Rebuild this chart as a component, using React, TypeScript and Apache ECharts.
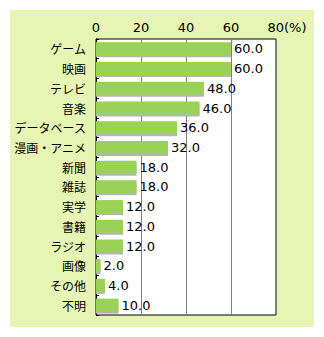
import React, { useEffect, useRef } from "react";
import * as echarts from "echarts";

const categories = ["ゲーム", "映画", "テレビ", "音楽", "データベース", "漫画・アニメ", "新聞", "雑誌", "実学", "書籍", "ラジオ", "画像", "その他", "不明"];
const values = [60.0, 60.0, 48.0, 46.0, 36.0, 32.0, 18.0, 18.0, 12.0, 12.0, 12.0, 2.0, 4.0, 10.0];
const xTicks = [0, 20, 40, 60, 80];

const FONT = "'Noto Sans CJK JP', 'DejaVu Sans', sans-serif";
const NUMFONT = "'DejaVu Sans', sans-serif";

export default function App() {
  const ref = useRef<HTMLDivElement>(null);
  useEffect(() => {
    if (!ref.current) return;
    const chart = echarts.init(ref.current, null, { renderer: "svg" });
    chart.setOption({
      animation: false,
      graphic: [
        {
          type: "rect",
          z: -10,
          shape: { x: 10, y: 10, width: 304, height: 317 },
          style: { fill: "#e6f5b4" },
        },
      ],
      grid: {
        left: 96,
        top: 39,
        width: 180,
        height: 276,
        show: true,
        backgroundColor: "#ffffff",
        borderColor: "#000000",
        borderWidth: 1,
      },
      xAxis: {
        type: "value",
        position: "top",
        min: xTicks[0],
        max: xTicks[xTicks.length - 1],
        interval: 20,
        axisLine: { show: false },
        axisTick: { show: false },
        splitLine: { show: true, lineStyle: { color: "#808080", width: 1 } },
        axisLabel: {
          margin: 5,
          color: "#000",
          fontSize: 13,
          fontFamily: NUMFONT,
          formatter: (v: number) => (v === 80 ? "{pad|}80(%)" : String(v)),
          rich: { pad: { width: 22 } },
        },
      },
      yAxis: {
        type: "category",
        data: categories,
        inverse: true,
        axisLine: { show: true, lineStyle: { color: "#000" } },
        axisTick: { show: true, inside: true, length: 3, lineStyle: { color: "#000" } },
        axisLabel: { margin: 10, color: "#000", fontSize: 12, fontFamily: FONT },
      },
      series: [
        {
          type: "bar",
          data: values,
          barWidth: 13,
          itemStyle: {
            color: "#99d255",
            shadowColor: "#b4b4b4",
            shadowOffsetY: 2,
            shadowOffsetX: 0,
            shadowBlur: 0,
          },
          label: {
            show: true,
            position: "right",
            distance: 3,
            color: "#000",
            fontSize: 13,
            fontFamily: NUMFONT,
            formatter: (p: any) => Number(p.value).toFixed(1),
          },
        },
      ],
    });
    return () => chart.dispose();
  }, []);
  return (
    <div
      ref={ref}
      style={{ position: "fixed", left: 0, top: 0, width: 324, height: 337, background: "#ffffff" }}
    />
  );
}
